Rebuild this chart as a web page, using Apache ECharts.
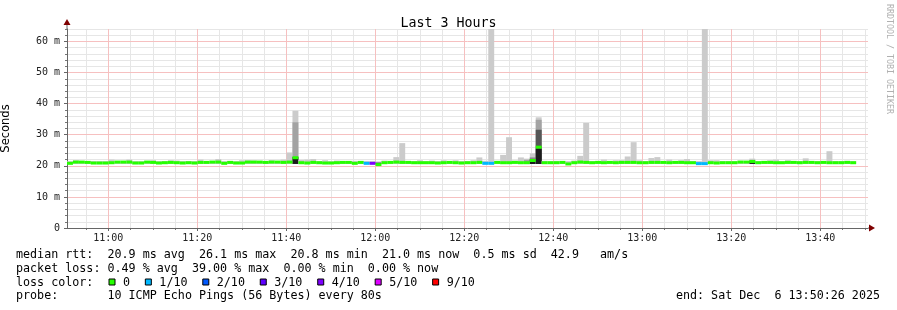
<!DOCTYPE html>
<html>
<head>
<meta charset="utf-8">
<script src="https://cdn.jsdelivr.net/npm/echarts@6/dist/echarts.min.js"></script>
<style>
html,body{margin:0;padding:0;background:#fff;}
#chart{width:897px;height:310px;}
</style>
</head>
<body>
<div id="chart"></div>
<script>
// ---- data (one value per 80 s step, 133 steps) ----
const stepSeconds = 80;
const startTime = [2025, 11, 6, 10, 50, 43];   // left edge of the plot (local time)
const spanMinutes = 180;

const median = [
  20.8, 21.2, 21.2, 21.1, 20.9, 20.9, 20.9, 21.0, 21.2, 21.2,
  21.2, 20.9, 20.9, 21.2, 21.1, 20.9, 21.0, 21.1, 21.0, 20.9,
  21.0, 20.9, 21.1, 21.1, 21.2, 21.2, 20.8, 21.1, 20.9, 20.9,
  21.2, 21.2, 21.2, 21.1, 21.2, 21.2, 21.1, 21.2, 22.6, 21.0,
  20.9, 21.1, 21.0, 20.9, 20.9, 21.0, 21.1, 21.1, 20.8, 21.1,
  20.8, 20.8, 20.4, 21.0, 21.1, 21.2, 21.1, 21.1, 21.0, 21.0,
  21.0, 21.0, 20.9, 21.0, 21.1, 21.0, 20.9, 21.0, 21.0, 21.1,
  20.8, 20.8, 21.1, 21.0, 21.0, 21.1, 21.0, 21.0, 21.7, 26.0,
  21.0, 21.0, 21.0, 21.1, 20.6, 21.0, 21.2, 21.1, 21.0, 21.1,
  21.0, 21.1, 21.0, 21.1, 21.1, 21.1, 21.0, 21.0, 21.1, 21.1,
  21.1, 21.0, 21.1, 21.1, 21.0, 21.0, 20.7, 20.7, 21.0, 20.9,
  21.0, 21.0, 21.0, 21.2, 21.2, 21.4, 21.0, 21.1, 21.1, 21.0,
  21.0, 21.1, 21.1, 21.0, 21.1, 21.1, 21.0, 21.1, 21.0, 21.0,
  21.0, 21.1, 21.0
];
// lost pings out of 10 per step
const lossTenths = [
  0,0,0,0,0,0,0,0,0,0, 0,0,0,0,0,0,0,0,0,0,
  0,0,0,0,0,0,0,0,0,0, 0,0,0,0,0,0,0,0,0,0,
  0,0,0,0,0,0,0,0,0,0, 1,4,0,0,0,0,0,0,0,0,
  0,0,0,0,0,0,0,0,0,0, 1,1,0,0,0,0,0,0,0,0,
  0,0,0,0,0,0,0,0,0,0, 0,0,0,0,0,0,0,0,0,0,
  0,0,0,0,0,0,1,1,0,0, 0,0,0,0,0,0,0,0,0,0,
  0,0,0,0,0,0,0,0,0,0, 0,0,0
];
// smoke: top of the outer (lightest) band, ms
const smokeMax = [
  21.5, 21.8, 21.5, 21.5, 21.5, 21.5, 21.5, 22.0, 21.5, 21.5,
  22.0, 21.5, 21.5, 21.5, 21.8, 21.5, 21.5, 21.8, 21.7, 21.5,
  21.5, 21.5, 22.0, 21.5, 21.5, 22.2, 21.5, 21.5, 21.5, 21.8,
  21.8, 21.7, 21.5, 21.5, 21.8, 21.5, 22.0, 24.3, 37.7, 21.9,
  22.0, 22.2, 21.5, 21.8, 21.5, 21.7, 21.5, 21.5, 21.6, 21.5,
  21.5, 21.5, 21.4, 21.7, 21.5, 22.8, 27.3, 21.5, 21.5, 21.8,
  21.5, 21.7, 21.5, 21.8, 21.5, 21.8, 21.5, 21.5, 21.8, 22.7,
  21.6, 64.5, 21.6, 23.5, 29.2, 21.7, 22.7, 22.3, 24.0, 35.6,
  21.6, 21.5, 21.6, 21.5, 21.5, 21.7, 23.2, 33.8, 21.5, 21.5,
  22.0, 21.5, 21.8, 21.8, 23.0, 27.6, 21.8, 21.5, 22.5, 22.8,
  21.5, 22.0, 21.5, 21.8, 22.2, 21.5, 21.5, 64.5, 21.8, 21.8,
  21.5, 21.5, 21.5, 21.6, 21.5, 22.3, 21.5, 21.5, 21.8, 22.0,
  21.5, 21.8, 21.5, 21.5, 22.4, 21.5, 21.5, 21.5, 24.7, 21.5,
  21.5, 21.6, 21.5
];
// inner smoke bands (only where visible)
const smokeMid = {38: 34.0, 77: 21.9, 78: 22.8, 79: 34.8};
const smokeDark = {78: 22.3, 79: 31.6};
const smokeCore = {38: 22.8, 52: 21.0, 78: 22.0, 79: 25.5, 115: 21.6};
const smokeFloor = 20.6;

const xTickLabels = ['11:00', '11:20', '11:40', '12:00', '12:20', '12:40', '13:00', '13:20', '13:40'];
const yTickLabels = [0, 10, 20, 30, 40, 50, 60];
const yMax = 64;
const lossLegend = ['0', '1/10', '2/10', '3/10', '4/10', '5/10', '9/10'];
const lossColors = ['#26ff00', '#00b8ff', '#0059ff', '#5e00ff', '#7e00ff', '#dd00ff', '#ff0000'];

const titleText = 'Last 3 Hours';
const legendLines = [
  'median rtt:  20.9 ms avg  26.1 ms max  20.8 ms min  21.0 ms now  0.5 ms sd  42.9   am/s',
  'packet loss: 0.49 % avg  39.00 % max  0.00 % min  0.00 % now',
  'loss color:',
  'probe:       10 ICMP Echo Pings (56 Bytes) every 80s'
];
const endText = 'end: Sat Dec  6 13:50:26 2025';
const watermark = 'RRDTOOL / TOBI OETIKER';

// ---- build ----
const t0 = new Date(startTime[0], startTime[1], startTime[2], startTime[3], startTime[4], startTime[5]).getTime();
const tEnd = t0 + spanMinutes * 60000;
function lossIndex(n) { return n >= 9 ? 6 : Math.min(n, 5); }
const rows = median.map((m, i) => {
  const a = t0 + i * stepSeconds * 1000;
  const g = (o) => (o[i] == null ? '-' : o[i]);
  return [a, a + stepSeconds * 1000, m, lossTenths[i], smokeMax[i], g(smokeMid), g(smokeDark), g(smokeCore)];
});
function clockToMs(s) {
  const p = s.split(':');
  return new Date(startTime[0], startTime[1], startTime[2], +p[0], +p[1], 0).getTime();
}
const labelValues = xTickLabels.map(clockToMs);
// minor grid: every 5 minutes / every 2 ms, excluding the major positions
const xMinorValues = [];
for (let v = labelValues[0] - 5 * 60000; v <= tEnd; v += 5 * 60000)
  if (v >= t0 && labelValues.indexOf(v) < 0) xMinorValues.push(v);
const yMinorValues = [];
for (let v = 2; v <= yMax; v += 2) if (yTickLabels.indexOf(v) < 0) yMinorValues.push(v);

const MONO = '"DejaVu Sans Mono", monospace';
const chart = echarts.init(document.getElementById('chart'), null, {renderer: 'canvas'});
const GL = 67, GR = 29, GT = 29, GB = 82;
const W = 897, H = 310;
const plotR = W - GR, plotB = H - GB;

function pad(n) { return (n < 10 ? '0' : '') + n; }

function renderSmoke(params, api) {
  const x0 = api.coord([api.value(0), 0])[0];
  const x1 = api.coord([api.value(1), 0])[0];
  const yb = api.coord([api.value(0), smokeFloor])[1];
  const layers = [[4, '#cbcbcb'], [5, '#a3a3a3'], [6, '#565656'], [7, '#1c1c1c']];
  const children = [];
  layers.forEach(([d, c]) => {
    const v = api.value(d);
    if (v == null || isNaN(v)) return;
    const yt = api.coord([api.value(0), v])[1];
    children.push({type: 'rect', shape: {x: x0, y: yt, width: x1 - x0, height: yb - yt}, style: {fill: c}});
  });
  return {type: 'group', children};
}
function renderMedian(params, api) {
  const x0 = api.coord([api.value(0), 0])[0];
  const x1 = api.coord([api.value(1), 0])[0];
  const y = api.coord([api.value(0), api.value(2)])[1];
  const c = lossColors[lossIndex(api.value(3))];
  return {type: 'rect', shape: {x: x0, y: y - 1.5, width: x1 - x0, height: 3}, style: {fill: c}};
}

const graphics = [];
// axis arrows
graphics.push({type: 'line', shape: {x1: GL, y1: GT, x2: GL, y2: GT - 5}, style: {stroke: '#666', lineWidth: 1}, z: 50});
graphics.push({type: 'polygon', shape: {points: [[GL - 3.5, GT - 4], [GL + 3.5, GT - 4], [GL, GT - 10]]}, style: {fill: '#7f0000'}, z: 51});
graphics.push({type: 'line', shape: {x1: plotR, y1: plotB, x2: plotR + 2, y2: plotB}, style: {stroke: '#666', lineWidth: 1}, z: 50});
graphics.push({type: 'polygon', shape: {points: [[plotR + 1, plotB - 3.5], [plotR + 1, plotB + 3.5], [plotR + 7, plotB]]}, style: {fill: '#7f0000'}, z: 51});
// watermark
graphics.push({type: 'text', x: 889, y: 4, rotation: -Math.PI / 2,
  style: {text: watermark, font: '8.3px ' + MONO, fill: '#b0b0b0', textAlign: 'left', textVerticalAlign: 'middle'}});
// legend text
const CW = 7.04, FONT = '11.7px ' + MONO;
const lineY = [254.5, 268.5, 282.5, 296.3];
legendLines.forEach((t, i) => {
  graphics.push({type: 'text', x: 16, y: lineY[i], style: {text: t, font: FONT, fill: '#000', textVerticalAlign: 'middle'}});
});
let bx = 108.5;
lossLegend.forEach((lab, i) => {
  graphics.push({type: 'rect', shape: {x: bx + 0.5, y: lineY[2] - 3.5, width: 6, height: 6}, style: {fill: lossColors[i], stroke: '#000', lineWidth: 1}});
  graphics.push({type: 'text', x: bx + 14.5, y: lineY[2], style: {text: lab, font: FONT, fill: '#000', textVerticalAlign: 'middle'}});
  bx += 14.5 + lab.length * CW + 14.8;
});
graphics.push({type: 'text', x: 880, y: lineY[3], style: {text: endText, font: FONT, fill: '#000', textAlign: 'right', textVerticalAlign: 'middle'}});

const majorRed = '#f6c0c0';
const minorGray = '#e6e6e6';
const fmtClock = (v) => { const d = new Date(v); return pad(d.getHours()) + ':' + pad(d.getMinutes()); };

const option = {
  backgroundColor: '#fff',
  animation: false,
  title: {text: titleText, left: 'center', top: 12,
    textStyle: {fontFamily: MONO, fontSize: 13.3, fontWeight: 'normal', color: '#000'}},
  grid: {left: GL, right: GR, top: GT, bottom: GB, containLabel: false, outerBoundsMode: 'none'},
  xAxis: [
    { // minor grid (5 min)
      type: 'value', min: t0, max: tEnd, position: 'bottom', z: 1,
      axisLine: {show: false},
      axisTick: {show: true, interval: 0, length: 2, lineStyle: {color: '#777'}, customValues: xMinorValues},
      axisLabel: {show: false, interval: 0, customValues: xMinorValues},
      splitLine: {show: true, interval: 0, showMinLine: true, showMaxLine: true,
        lineStyle: {color: minorGray, type: 'solid', width: 1}}
    },
    { // major grid + labels (20 min)
      type: 'value', min: t0, max: tEnd, position: 'bottom', z: 2,
      axisLine: {show: true, lineStyle: {color: '#666', width: 1}},
      axisTick: {show: true, interval: 0, length: 3, lineStyle: {color: '#666'}, customValues: labelValues},
      axisLabel: {margin: 5, interval: 0, fontFamily: MONO, fontSize: 10, color: '#222', customValues: labelValues,
        showMinLabel: true, showMaxLabel: true, formatter: fmtClock},
      splitLine: {show: true, interval: 0, showMinLine: true, showMaxLine: true,
        lineStyle: {color: majorRed, type: 'solid', width: 1}}
    }
  ],
  yAxis: [
    { // minor grid (2 ms)
      type: 'value', min: 0, max: yMax, position: 'left', z: 1,
      axisLine: {show: false},
      axisTick: {show: true, interval: 0, length: 2, lineStyle: {color: '#777'}, customValues: yMinorValues},
      axisLabel: {show: false, interval: 0, customValues: yMinorValues},
      splitLine: {show: true, interval: 0, showMinLine: true, showMaxLine: true,
        lineStyle: {color: minorGray, type: 'solid', width: 1}}
    },
    { // major grid + labels (10 ms)
      type: 'value', min: 0, max: yMax, position: 'left', z: 2,
      name: 'Seconds', nameLocation: 'middle', nameGap: 55, nameRotate: 90,
      nameTextStyle: {fontFamily: '"DejaVu Sans", sans-serif', fontSize: 11.5, color: '#000'},
      axisLine: {show: true, lineStyle: {color: '#666', width: 1}},
      axisTick: {show: true, interval: 0, length: 3, lineStyle: {color: '#666'}, customValues: yTickLabels},
      axisLabel: {margin: 7, interval: 0, fontFamily: MONO, fontSize: 10, color: '#222', customValues: yTickLabels,
        showMinLabel: true, showMaxLabel: true,
        formatter: (v) => (v === 0 ? '0' : v + ' m')},
      splitLine: {show: true, interval: 0, showMinLine: true, showMaxLine: true,
        lineStyle: {color: majorRed, type: 'solid', width: 1}}
    }
  ],
  series: [
    {type: 'custom', name: 'smoke', renderItem: renderSmoke, data: rows, clip: true, z: 3,
      xAxisIndex: 1, yAxisIndex: 1, encode: {x: [0, 1], y: [2, 4]}, silent: true},
    {type: 'custom', name: 'median', renderItem: renderMedian, data: rows, clip: true, z: 4,
      xAxisIndex: 1, yAxisIndex: 1, encode: {x: [0, 1], y: 2}, silent: true}
  ],
  graphic: graphics
};
chart.setOption(option);
</script>
</body>
</html>
